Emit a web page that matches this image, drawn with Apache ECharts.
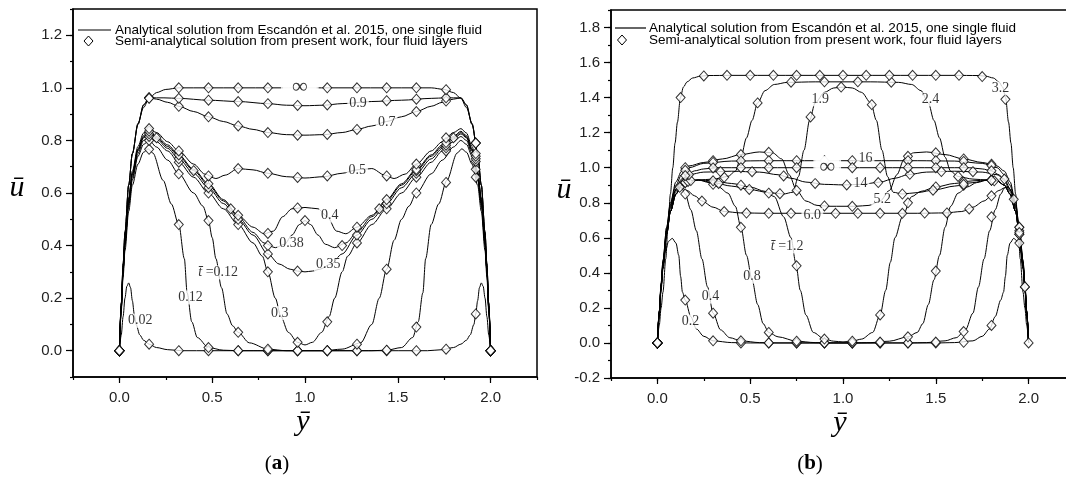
<!DOCTYPE html>
<html>
<head>
<meta charset="utf-8">
<title>velocity profiles</title>
<script src="https://cdn.jsdelivr.net/npm/echarts@6/dist/echarts.min.js"></script>
<style>
  html, body { margin: 0; padding: 0; background: #fff; overflow: hidden; }
  #chart { width: 1080px; height: 479px; }
</style>
</head>
<body>
<div id="chart"></div>
<script>
// tick labels
var aXTicks = [0, 0.5, 1, 1.5, 2];
var aYTicks = [0, 0.2, 0.4, 0.6, 0.8, 1, 1.2];
var bYTicks = [-0.2, 0, 0.2, 0.4, 0.6, 0.8, 1, 1.2, 1.4, 1.6, 1.8];

// ---- panel (a) : analytical lines + semi-analytical diamonds ----
var a002Line = [[0,0],[0.01,0.06],[0.02,0.13],[0.03,0.2],[0.04,0.245],[0.05,0.258],[0.06,0.24],[0.07,0.19],[0.08,0.14],[0.09,0.1],[0.11,0.06],[0.13,0.04],[0.16,0.025],[0.2,0.012],[0.26,0.004],[0.34,0],[1.66,0],[1.74,0.004],[1.8,0.012],[1.84,0.025],[1.87,0.04],[1.89,0.06],[1.91,0.1],[1.92,0.14],[1.93,0.19],[1.94,0.24],[1.95,0.258],[1.96,0.245],[1.97,0.2],[1.98,0.13],[1.99,0.06],[2,0]];
var a002Pts = [[0,0],[0.16,0.025],[0.32,0],[0.48,0],[0.64,0],[0.8,0],[0.96,0],[1.12,0],[1.28,0],[1.44,0],[1.6,0],[1.76,0.006],[1.92,0.14],[2,0]];

var a012Line = [[0,0],[0.01,0.15],[0.02,0.28],[0.03,0.38],[0.05,0.53],[0.07,0.63],[0.1,0.71],[0.13,0.755],[0.155,0.768],[0.18,0.752],[0.236,0.648],[0.28,0.558],[0.32,0.48],[0.35,0.35],[0.365,0.22],[0.39,0.11],[0.42,0.05],[0.48,0.012],[0.56,0.002],[0.64,0],[1.36,0],[1.44,0.002],[1.52,0.012],[1.58,0.05],[1.61,0.11],[1.635,0.22],[1.65,0.35],[1.68,0.48],[1.72,0.558],[1.764,0.648],[1.82,0.752],[1.845,0.768],[1.87,0.755],[1.9,0.71],[1.93,0.63],[1.95,0.53],[1.97,0.38],[1.98,0.28],[1.99,0.15],[2,0]];
var a012Pts = [[0,0],[0.16,0.766],[0.32,0.48],[0.48,0.012],[0.64,0],[0.8,0],[0.96,0],[1.12,0],[1.28,0],[1.44,0.002],[1.6,0.09],[1.76,0.64],[1.92,0.66],[2,0]];

var a012bLine = [[0,0],[0.01,0.16],[0.02,0.3],[0.03,0.4],[0.05,0.55],[0.07,0.65],[0.1,0.74],[0.13,0.785],[0.16,0.8],[0.2,0.775],[0.26,0.725],[0.32,0.673],[0.4,0.6],[0.45,0.55],[0.48,0.495],[0.5,0.43],[0.52,0.35],[0.55,0.24],[0.58,0.14],[0.61,0.095],[0.64,0.07],[0.7,0.03],[0.8,0.006],[0.9,0],[1.1,0],[1.2,0.006],[1.3,0.03],[1.36,0.1],[1.4,0.2],[1.44,0.31],[1.48,0.42],[1.52,0.5],[1.56,0.55],[1.6,0.6],[1.68,0.673],[1.74,0.725],[1.8,0.775],[1.84,0.8],[1.87,0.785],[1.9,0.74],[1.93,0.65],[1.95,0.55],[1.97,0.4],[1.98,0.3],[1.99,0.16],[2,0]];
var a012bPts = [[0,0],[0.16,0.8],[0.32,0.673],[0.48,0.495],[0.64,0.07],[0.8,0.006],[0.96,0],[1.12,0],[1.28,0.025],[1.44,0.31],[1.6,0.6],[1.76,0.76],[1.92,0.69],[2,0]];

var a03Line = [[0,0],[0.01,0.16],[0.02,0.3],[0.03,0.41],[0.05,0.56],[0.07,0.66],[0.1,0.75],[0.13,0.8],[0.16,0.815],[0.2,0.795],[0.26,0.76],[0.32,0.717],[0.4,0.66],[0.48,0.6],[0.56,0.54],[0.64,0.48],[0.72,0.41],[0.77,0.36],[0.8,0.3],[0.84,0.2],[0.87,0.13],[0.91,0.07],[0.96,0.032],[1,0.022],[1.04,0.032],[1.09,0.07],[1.13,0.13],[1.16,0.2],[1.2,0.3],[1.23,0.36],[1.28,0.41],[1.36,0.48],[1.44,0.54],[1.52,0.6],[1.6,0.66],[1.68,0.717],[1.74,0.76],[1.8,0.795],[1.84,0.815],[1.87,0.8],[1.9,0.75],[1.93,0.66],[1.95,0.56],[1.97,0.41],[1.98,0.3],[1.99,0.16],[2,0]];
var a03Pts = [[0,0],[0.16,0.815],[0.32,0.717],[0.48,0.6],[0.64,0.48],[0.8,0.3],[0.96,0.032],[1.12,0.11],[1.28,0.41],[1.44,0.54],[1.6,0.66],[1.76,0.772],[1.92,0.72],[2,0]];

var a035Line = [[0,0],[0.01,0.165],[0.02,0.305],[0.03,0.41],[0.05,0.57],[0.07,0.67],[0.1,0.76],[0.13,0.81],[0.16,0.825],[0.2,0.805],[0.26,0.77],[0.32,0.73],[0.4,0.675],[0.48,0.62],[0.56,0.56],[0.64,0.5],[0.72,0.44],[0.8,0.368],[0.86,0.33],[0.92,0.31],[0.96,0.303],[1,0.3],[1.04,0.303],[1.08,0.31],[1.14,0.33],[1.2,0.368],[1.28,0.44],[1.36,0.5],[1.44,0.56],[1.52,0.62],[1.6,0.675],[1.68,0.73],[1.74,0.77],[1.8,0.805],[1.84,0.825],[1.87,0.81],[1.9,0.76],[1.93,0.67],[1.95,0.57],[1.97,0.41],[1.98,0.305],[1.99,0.165],[2,0]];
var a035Pts = [[0,0],[0.16,0.825],[0.32,0.73],[0.48,0.62],[0.64,0.5],[0.8,0.368],[0.96,0.303],[1.28,0.44],[1.44,0.56],[1.6,0.675],[1.76,0.782],[1.92,0.73],[2,0]];

var a038Line = [[0,0],[0.01,0.166],[0.02,0.307],[0.03,0.415],[0.05,0.573],[0.07,0.672],[0.1,0.764],[0.13,0.813],[0.16,0.83],[0.2,0.81],[0.26,0.777],[0.32,0.74],[0.4,0.685],[0.48,0.63],[0.56,0.57],[0.64,0.51],[0.72,0.45],[0.78,0.41],[0.84,0.392],[0.89,0.405],[0.93,0.44],[0.97,0.48],[1,0.495],[1.03,0.48],[1.07,0.44],[1.11,0.405],[1.16,0.392],[1.22,0.41],[1.28,0.45],[1.36,0.51],[1.44,0.57],[1.52,0.63],[1.6,0.685],[1.68,0.74],[1.74,0.777],[1.8,0.81],[1.84,0.83],[1.87,0.813],[1.9,0.764],[1.93,0.672],[1.95,0.573],[1.97,0.415],[1.98,0.307],[1.99,0.166],[2,0]];
var a038Pts = [[0,0],[0.2,0.81],[0.4,0.685],[0.6,0.54],[0.8,0.4],[1,0.495],[1.2,0.4],[1.4,0.54],[1.6,0.685],[1.8,0.81],[2,0]];

var a04Line = [[0,0],[0.01,0.167],[0.02,0.309],[0.03,0.418],[0.05,0.576],[0.07,0.676],[0.1,0.768],[0.13,0.818],[0.16,0.835],[0.2,0.815],[0.26,0.783],[0.32,0.745],[0.4,0.69],[0.48,0.635],[0.56,0.575],[0.64,0.515],[0.72,0.47],[0.78,0.445],[0.83,0.455],[0.88,0.51],[0.93,0.54],[1,0.545],[1.07,0.54],[1.12,0.51],[1.17,0.455],[1.22,0.445],[1.28,0.47],[1.36,0.515],[1.44,0.575],[1.52,0.635],[1.6,0.69],[1.68,0.745],[1.74,0.783],[1.8,0.815],[1.84,0.835],[1.87,0.818],[1.9,0.768],[1.93,0.676],[1.95,0.576],[1.97,0.418],[1.98,0.309],[1.99,0.167],[2,0]];
var a04Pts = [[0,0],[0.16,0.835],[0.32,0.745],[0.48,0.635],[0.64,0.515],[0.8,0.446],[0.96,0.543],[1.28,0.47],[1.44,0.575],[1.6,0.69],[1.76,0.792],[1.92,0.74],[2,0]];

var a05Line = [[0,0],[0.01,0.17],[0.02,0.313],[0.03,0.423],[0.05,0.583],[0.07,0.684],[0.1,0.777],[0.13,0.828],[0.16,0.845],[0.2,0.83],[0.26,0.795],[0.32,0.76],[0.4,0.71],[0.46,0.672],[0.52,0.655],[0.57,0.668],[0.64,0.693],[0.72,0.688],[0.8,0.675],[0.9,0.662],[1,0.657],[1.1,0.662],[1.2,0.675],[1.28,0.688],[1.36,0.693],[1.43,0.668],[1.48,0.655],[1.54,0.672],[1.6,0.71],[1.68,0.76],[1.74,0.795],[1.8,0.83],[1.84,0.845],[1.87,0.828],[1.9,0.777],[1.93,0.684],[1.95,0.583],[1.97,0.423],[1.98,0.313],[1.99,0.17],[2,0]];
var a05Pts = [[0,0],[0.16,0.845],[0.32,0.76],[0.48,0.665],[0.64,0.693],[0.8,0.675],[0.96,0.659],[1.12,0.665],[1.44,0.665],[1.6,0.71],[1.76,0.81],[1.92,0.75],[2,0]];

var a07Line = [[0,0],[0.01,0.18],[0.02,0.33],[0.03,0.45],[0.05,0.63],[0.07,0.75],[0.1,0.86],[0.13,0.935],[0.16,0.962],[0.2,0.957],[0.26,0.945],[0.32,0.93],[0.4,0.91],[0.48,0.89],[0.56,0.872],[0.64,0.855],[0.72,0.842],[0.8,0.83],[0.9,0.822],[1,0.82],[1.1,0.822],[1.2,0.83],[1.28,0.842],[1.36,0.855],[1.44,0.872],[1.52,0.89],[1.6,0.91],[1.68,0.93],[1.74,0.945],[1.8,0.957],[1.84,0.962],[1.87,0.935],[1.9,0.86],[1.93,0.75],[1.95,0.63],[1.97,0.45],[1.98,0.33],[1.99,0.18],[2,0]];
var a07Pts = [[0,0],[0.16,0.962],[0.32,0.93],[0.48,0.89],[0.64,0.855],[0.8,0.83],[0.96,0.82],[1.12,0.823],[1.28,0.842],[1.6,0.91],[1.76,0.95],[1.92,0.79],[2,0]];

var a09Line = [[0,0],[0.01,0.18],[0.02,0.33],[0.03,0.45],[0.05,0.63],[0.07,0.75],[0.1,0.862],[0.13,0.935],[0.16,0.962],[0.24,0.962],[0.32,0.96],[0.48,0.953],[0.64,0.948],[0.8,0.94],[0.9,0.934],[1,0.932],[1.1,0.934],[1.2,0.94],[1.36,0.948],[1.52,0.953],[1.68,0.96],[1.76,0.962],[1.84,0.962],[1.87,0.935],[1.9,0.862],[1.93,0.75],[1.95,0.63],[1.97,0.45],[1.98,0.33],[1.99,0.18],[2,0]];
var a09Pts = [[0,0],[0.16,0.962],[0.32,0.96],[0.48,0.953],[0.64,0.948],[0.8,0.94],[0.96,0.933],[1.12,0.935],[1.44,0.951],[1.6,0.957],[1.76,0.962],[1.92,0.79],[2,0]];

var aInfLine = [[0,0],[0.01,0.18],[0.02,0.33],[0.03,0.45],[0.05,0.63],[0.07,0.75],[0.1,0.865],[0.13,0.925],[0.16,0.96],[0.2,0.982],[0.25,0.994],[0.32,1],[1.68,1],[1.75,0.994],[1.8,0.982],[1.84,0.96],[1.87,0.925],[1.9,0.865],[1.93,0.75],[1.95,0.63],[1.97,0.45],[1.98,0.33],[1.99,0.18],[2,0]];
var aInfPts = [[0,0],[0.16,0.96],[0.32,1],[0.48,1],[0.64,1],[0.8,1],[1.12,1],[1.28,1],[1.44,1],[1.6,1],[1.76,0.993],[1.92,0.79],[2,0]];

// curve labels (a): [y, u, text]
var aLabels = [[0.113,0.114,'0.02'],[0.383,0.203,'0.12'],[0.532,0.298,'{i|t\u0304} =0.12'],[0.864,0.143,'0.3'],[1.125,0.328,'0.35'],[0.927,0.409,'0.38'],[1.133,0.514,'0.4'],[1.281,0.686,'0.5'],[1.44,0.87,'0.7'],[1.286,0.942,'0.9'],[0.972,1.003,'{infA|\u221e}']];

// ---- panel (b) ----
var b02Line = [[0,0],[0.01,0.16],[0.02,0.3],[0.03,0.42],[0.045,0.53],[0.06,0.58],[0.08,0.597],[0.1,0.57],[0.115,0.5],[0.125,0.38],[0.135,0.29],[0.15,0.245],[0.18,0.15],[0.21,0.08],[0.25,0.038],[0.3,0.012],[0.4,0.002],[0.5,0],[1.5,0],[1.6,0.002],[1.7,0.012],[1.75,0.038],[1.79,0.08],[1.82,0.15],[1.85,0.245],[1.865,0.29],[1.875,0.38],[1.885,0.5],[1.9,0.57],[1.92,0.597],[1.94,0.58],[1.955,0.53],[1.97,0.42],[1.98,0.3],[1.99,0.16],[2,0]];
var b02Pts = [[0,0],[0.15,0.245],[0.3,0.012],[0.45,0],[0.6,0],[0.75,0],[0.9,0],[1.05,0],[1.2,0],[1.35,0],[1.5,0],[1.65,0.004],[1.8,0.1],[1.95,0.57]];

var b04Line = [[0,0],[0.01,0.17],[0.02,0.32],[0.03,0.45],[0.05,0.64],[0.07,0.78],[0.09,0.86],[0.11,0.89],[0.13,0.885],[0.15,0.85],[0.18,0.76],[0.21,0.64],[0.24,0.48],[0.27,0.32],[0.3,0.17],[0.34,0.075],[0.39,0.03],[0.45,0.012],[0.55,0.002],[0.65,0],[1.35,0],[1.45,0.002],[1.55,0.012],[1.61,0.03],[1.66,0.075],[1.7,0.17],[1.73,0.32],[1.76,0.48],[1.79,0.64],[1.82,0.76],[1.85,0.85],[1.87,0.885],[1.89,0.89],[1.91,0.86],[1.93,0.78],[1.95,0.64],[1.97,0.45],[1.98,0.32],[1.99,0.17],[2,0]];
var b04Pts = [[0,0],[0.15,0.85],[0.3,0.17],[0.45,0.012],[0.6,0],[0.75,0],[0.9,0],[1.05,0],[1.2,0],[1.35,0],[1.5,0.005],[1.65,0.065],[1.8,0.72],[1.95,0.64]];

var b08Line = [[0,0],[0.01,0.17],[0.02,0.32],[0.03,0.44],[0.05,0.62],[0.07,0.75],[0.1,0.85],[0.13,0.9],[0.17,0.925],[0.22,0.93],[0.28,0.915],[0.33,0.89],[0.38,0.855],[0.42,0.78],[0.45,0.66],[0.48,0.5],[0.51,0.36],[0.54,0.22],[0.57,0.11],[0.6,0.06],[0.65,0.035],[0.75,0.01],[0.85,0.002],[0.95,0],[1.05,0],[1.15,0.002],[1.25,0.01],[1.35,0.035],[1.4,0.06],[1.43,0.11],[1.46,0.22],[1.49,0.36],[1.52,0.5],[1.55,0.66],[1.58,0.78],[1.62,0.855],[1.67,0.89],[1.72,0.915],[1.78,0.93],[1.83,0.925],[1.87,0.9],[1.9,0.85],[1.93,0.75],[1.95,0.62],[1.97,0.44],[1.98,0.32],[1.99,0.17],[2,0]];
var b08Pts = [[0,0],[0.15,0.915],[0.3,0.905],[0.45,0.66],[0.6,0.06],[0.75,0.01],[0.9,0.001],[1.05,0],[1.2,0.005],[1.35,0.035],[1.5,0.41],[1.65,0.9],[1.8,0.93],[1.95,0.62]];

var b12Line = [[0,0],[0.01,0.17],[0.02,0.32],[0.03,0.44],[0.05,0.62],[0.07,0.75],[0.1,0.85],[0.13,0.9],[0.17,0.925],[0.22,0.93],[0.3,0.925],[0.4,0.91],[0.5,0.89],[0.58,0.865],[0.63,0.835],[0.68,0.72],[0.72,0.6],[0.745,0.46],[0.77,0.3],[0.8,0.16],[0.84,0.06],[0.9,0.022],[0.95,0.01],[1,0.006],[1.05,0.01],[1.1,0.022],[1.16,0.06],[1.2,0.16],[1.23,0.3],[1.255,0.46],[1.28,0.6],[1.32,0.72],[1.37,0.835],[1.42,0.865],[1.5,0.89],[1.6,0.91],[1.7,0.925],[1.78,0.93],[1.83,0.925],[1.87,0.9],[1.9,0.85],[1.93,0.75],[1.95,0.62],[1.97,0.44],[1.98,0.32],[1.99,0.17],[2,0]];
var b12Pts = [[0,0],[0.15,0.915],[0.3,0.925],[0.45,0.9],[0.6,0.855],[0.75,0.44],[0.9,0.022],[1.05,0.01],[1.2,0.16],[1.35,0.8],[1.5,0.89],[1.65,0.918],[1.8,0.93],[1.95,0.62]];

var b19Line = [[0,0],[0.01,0.17],[0.02,0.32],[0.03,0.44],[0.05,0.62],[0.07,0.75],[0.1,0.85],[0.13,0.9],[0.17,0.925],[0.22,0.93],[0.3,0.915],[0.4,0.895],[0.5,0.875],[0.6,0.858],[0.68,0.85],[0.73,0.86],[0.76,0.95],[0.79,1.1],[0.82,1.27],[0.85,1.37],[0.9,1.43],[0.95,1.455],[1,1.46],[1.05,1.455],[1.1,1.43],[1.15,1.37],[1.18,1.27],[1.21,1.1],[1.24,0.95],[1.27,0.86],[1.32,0.85],[1.4,0.858],[1.5,0.875],[1.6,0.895],[1.7,0.915],[1.78,0.93],[1.83,0.925],[1.87,0.9],[1.9,0.85],[1.93,0.75],[1.95,0.62],[1.97,0.44],[1.98,0.32],[1.99,0.17],[2,0]];
var b19Pts = [[0,0],[0.165,0.922],[0.33,0.91],[0.495,0.876],[0.66,0.852],[0.825,1.29],[0.99,1.46],[1.155,1.36],[1.32,0.85],[1.485,0.872],[1.65,0.905],[1.815,0.925],[1.98,0.32]];

var b24Line = [[0,0],[0.01,0.17],[0.02,0.32],[0.03,0.44],[0.05,0.62],[0.07,0.75],[0.1,0.85],[0.13,0.9],[0.17,0.925],[0.22,0.93],[0.3,0.935],[0.38,0.95],[0.42,0.98],[0.45,1.06],[0.48,1.17],[0.51,1.27],[0.54,1.37],[0.58,1.44],[0.63,1.475],[0.7,1.487],[0.85,1.49],[1.15,1.49],[1.3,1.487],[1.37,1.475],[1.42,1.44],[1.46,1.37],[1.49,1.27],[1.52,1.17],[1.55,1.06],[1.58,0.98],[1.62,0.95],[1.7,0.935],[1.78,0.93],[1.83,0.925],[1.87,0.9],[1.9,0.85],[1.93,0.75],[1.95,0.62],[1.97,0.44],[1.98,0.32],[1.99,0.17],[2,0]];
var b24Pts = [[0,0],[0.18,0.927],[0.36,0.945],[0.54,1.37],[0.72,1.488],[0.9,1.49],[1.08,1.49],[1.26,1.488],[1.62,0.95],[1.8,0.928],[1.98,0.32]];

var b32Line = [[0,0],[0.01,0.1],[0.02,0.2],[0.03,0.29],[0.045,0.48],[0.057,0.664],[0.07,0.85],[0.083,1],[0.095,1.14],[0.108,1.26],[0.124,1.4],[0.14,1.46],[0.16,1.49],[0.19,1.512],[0.23,1.522],[0.27,1.526],[0.4,1.527],[1.6,1.527],[1.73,1.526],[1.77,1.522],[1.81,1.512],[1.84,1.49],[1.86,1.46],[1.876,1.4],[1.892,1.26],[1.905,1.14],[1.917,1],[1.93,0.85],[1.943,0.664],[1.955,0.48],[1.97,0.29],[1.98,0.2],[1.99,0.1],[2,0]];
var b32Pts = [[0,0],[0.125,1.4],[0.25,1.524],[0.375,1.527],[0.5,1.527],[0.625,1.527],[0.75,1.527],[0.875,1.527],[1,1.527],[1.125,1.527],[1.25,1.527],[1.375,1.527],[1.5,1.527],[1.625,1.527],[1.75,1.52],[1.875,1.39],[2,0]];

var b52Line = [[0,0],[0.01,0.18],[0.02,0.34],[0.03,0.47],[0.05,0.66],[0.07,0.8],[0.1,0.92],[0.13,0.98],[0.17,1.01],[0.25,1.03],[0.35,1.05],[0.45,1.075],[0.55,1.09],[0.62,1.085],[0.67,1.05],[0.71,0.96],[0.75,0.87],[0.8,0.81],[0.86,0.785],[0.93,0.78],[1,0.78],[1.07,0.78],[1.14,0.785],[1.2,0.81],[1.25,0.87],[1.29,0.96],[1.33,1.05],[1.38,1.085],[1.45,1.09],[1.55,1.075],[1.65,1.05],[1.75,1.03],[1.83,1.01],[1.87,0.98],[1.9,0.92],[1.93,0.8],[1.95,0.66],[1.97,0.47],[1.98,0.34],[1.99,0.18],[2,0]];
var b52Pts = [[0,0],[0.15,1],[0.3,1.04],[0.45,1.075],[0.6,1.088],[0.75,0.87],[0.9,0.782],[1.05,0.78],[1.35,1.065],[1.5,1.085],[1.65,1.05],[1.8,1.02],[1.95,0.66]];

var b60Line = [[0,0],[0.01,0.17],[0.02,0.32],[0.03,0.45],[0.05,0.64],[0.07,0.78],[0.09,0.86],[0.11,0.89],[0.13,0.885],[0.16,0.87],[0.2,0.84],[0.24,0.81],[0.3,0.775],[0.36,0.75],[0.45,0.742],[0.6,0.74],[1.4,0.74],[1.55,0.742],[1.64,0.75],[1.7,0.775],[1.76,0.81],[1.8,0.84],[1.84,0.87],[1.87,0.885],[1.89,0.89],[1.91,0.86],[1.93,0.78],[1.95,0.64],[1.97,0.45],[1.98,0.32],[1.99,0.17],[2,0]];
var b60Pts = [[0,0],[0.12,0.888],[0.24,0.81],[0.36,0.75],[0.48,0.741],[0.6,0.74],[0.72,0.74],[0.96,0.74],[1.08,0.74],[1.2,0.74],[1.32,0.74],[1.44,0.741],[1.56,0.742],[1.68,0.765],[1.8,0.84],[1.92,0.82]];

var b14Line = [[0,0],[0.01,0.18],[0.02,0.33],[0.03,0.46],[0.05,0.645],[0.07,0.77],[0.1,0.88],[0.13,0.935],[0.17,0.96],[0.25,0.975],[0.4,0.98],[0.55,0.975],[0.65,0.96],[0.72,0.94],[0.8,0.918],[0.9,0.905],[1,0.902],[1.1,0.905],[1.2,0.918],[1.28,0.94],[1.35,0.96],[1.45,0.975],[1.6,0.98],[1.75,0.975],[1.83,0.96],[1.87,0.935],[1.9,0.88],[1.93,0.77],[1.95,0.645],[1.97,0.46],[1.98,0.33],[1.99,0.18],[2,0]];
var b14Pts = [[0,0],[0.17,0.96],[0.34,0.978],[0.51,0.977],[0.68,0.953],[0.85,0.91],[1.02,0.902],[1.19,0.915],[1.36,0.962],[1.53,0.978],[1.7,0.977],[1.87,0.935]];

var b16Line = [[0,0],[0.01,0.18],[0.02,0.34],[0.03,0.47],[0.05,0.66],[0.07,0.79],[0.1,0.9],[0.13,0.96],[0.17,1],[0.25,1.025],[0.4,1.038],[0.6,1.04],[1.4,1.04],[1.6,1.038],[1.75,1.025],[1.83,1],[1.87,0.96],[1.9,0.9],[1.93,0.79],[1.95,0.66],[1.97,0.47],[1.98,0.34],[1.99,0.18],[2,0]];
var b16Pts = [[0,0],[0.15,0.985],[0.3,1.03],[0.45,1.039],[0.6,1.04],[0.75,1.04],[0.9,1.04],[1.05,1.04],[1.35,1.04],[1.5,1.04],[1.65,1.036],[1.8,1.012],[1.95,0.66]];

var bInfLine = [[0,0],[0.01,0.18],[0.02,0.33],[0.03,0.45],[0.05,0.63],[0.07,0.75],[0.1,0.865],[0.13,0.925],[0.16,0.96],[0.2,0.982],[0.25,0.993],[0.32,1],[1.68,1],[1.75,0.993],[1.8,0.982],[1.84,0.96],[1.87,0.925],[1.9,0.865],[1.93,0.75],[1.95,0.63],[1.97,0.45],[1.98,0.33],[1.99,0.18],[2,0]];
var bInfPts = [[0,0],[0.15,0.955],[0.3,0.999],[0.45,1],[0.6,1],[0.75,1],[1.05,1],[1.2,1],[1.35,1],[1.5,1],[1.65,1],[1.8,0.982],[1.95,0.63]];

// curve labels (b)
var bLabels = [[1.121,1.054,'16'],[0.915,1.003,'{infB|\u221e}'],[1.094,0.911,'14'],[1.211,0.82,'5.2'],[0.834,0.731,'6.0'],[0.878,1.39,'1.9'],[1.472,1.39,'2.4'],[1.849,1.453,'3.2'],[0.699,0.55,'{i|t\u0304} =1.2'],[0.51,0.379,'0.8'],[0.286,0.264,'0.4'],[0.178,0.122,'0.2']];

var aLines = [a002Line, a012Line, a012bLine, a03Line, a035Line, a038Line, a04Line, a05Line, a07Line, a09Line, aInfLine];
var aMarks = [a002Pts, a012Pts, a012bPts, a03Pts, a035Pts, a038Pts, a04Pts, a05Pts, a07Pts, a09Pts, aInfPts];
var bLines = [b02Line, b04Line, b08Line, b12Line, b19Line, b24Line, b32Line, b52Line, b60Line, b14Line, b16Line, bInfLine];
var bMarks = [b02Pts, b04Pts, b08Pts, b12Pts, b19Pts, b24Pts, b32Pts, b52Pts, b60Pts, b14Pts, b16Pts, bInfPts];

var AXIS_FONT = '"Liberation Sans", Arial, sans-serif';
var SERIF = '"Liberation Serif", "Times New Roman", serif';

function mainX(grid) {
	return {
		gridIndex: grid, type: 'value', position: 'bottom', min: -0.25, max: 2.25, interval: 0.25,
		axisLine: { onZero: false, lineStyle: { color: '#000', width: 1.5 } },
		axisTick: { customValues: aXTicks, length: 6, lineStyle: { color: '#000', width: 1.2 } },
		axisLabel: { customValues: aXTicks, margin: 13, color: '#222', fontSize: 15, fontFamily: AXIS_FONT,
			formatter: function (v) { return v.toFixed(1); } },
		splitLine: { show: false }
	};
}
function minorX(grid) {
	return {
		gridIndex: grid, type: 'value', position: 'bottom', min: -0.25, max: 2.25, interval: 0.25,
		axisLine: { show: false, onZero: false }, axisLabel: { show: false }, splitLine: { show: false },
		axisTick: { length: 3, lineStyle: { color: '#000', width: 1.2 } }
	};
}
function mainY(grid, min, max, ticks) {
	return {
		gridIndex: grid, type: 'value', position: 'left', min: min, max: max, interval: 0.1,
		axisLine: { show: true, onZero: false, lineStyle: { color: '#000', width: 1.5 } },
		axisTick: { show: true, customValues: ticks, length: 7, lineStyle: { color: '#000', width: 1.2 } },
		axisLabel: { customValues: ticks, margin: 11, color: '#222', fontSize: 15, fontFamily: AXIS_FONT,
			formatter: function (v) { return v.toFixed(1); } },
		splitLine: { show: false }
	};
}
function minorY(grid, min, max) {
	return {
		gridIndex: grid, type: 'value', position: 'left', min: min, max: max, interval: 0.1,
		axisLine: { show: false, onZero: false }, axisLabel: { show: false }, splitLine: { show: false },
		axisTick: { show: true, length: 3, lineStyle: { color: '#000', width: 1.2 } }
	};
}

var series = [];
function addCurves(lines, marks, xi, yi) {
	for (var i = 0; i < lines.length; i++) {
		series.push({
			type: 'line', xAxisIndex: xi, yAxisIndex: yi, data: lines[i],
			symbol: 'none', smooth: 0.3, smoothMonotone: 'x', silent: true, z: 2,
			lineStyle: { color: '#000', width: 1 }
		});
		series.push({
			type: 'scatter', xAxisIndex: xi, yAxisIndex: yi, data: marks[i],
			symbol: 'diamond', symbolSize: [9, 10], silent: true, z: 3,
			itemStyle: { color: '#fff', borderColor: '#000', borderWidth: 1 }
		});
	}
}
addCurves(aLines, aMarks, 0, 0);
addCurves(bLines, bMarks, 2, 2);

//曲线标注
function labelSeries(data, xi, yi) {
	return {
		type: 'scatter', xAxisIndex: xi, yAxisIndex: yi, data: data,
		symbol: 'circle', symbolSize: 1, silent: true, z: 6,
		itemStyle: { color: 'rgba(0,0,0,0)' },
		label: {
			show: true, position: 'inside', color: '#000',
			fontFamily: SERIF, fontSize: 14, backgroundColor: '#fff', padding: [0, 2],
			formatter: function (p) { return p.data[2]; },
			rich: {
				i: { fontFamily: SERIF, fontStyle: 'italic', fontSize: 14, color: '#000' },
				infA: { fontFamily: SERIF, fontSize: 22, color: '#000', backgroundColor: '#fff', padding: [0, 9] },
				infB: { fontFamily: SERIF, fontSize: 22, color: '#000', backgroundColor: '#fff', padding: [0, 4] }
			}
		}
	};
}
series.push(labelSeries(aLabels, 0, 0));
series.push(labelSeries(bLabels, 2, 2));

function diamond(cx, cy) {
	return { type: 'polygon', shape: { points: [[cx, cy - 5], [cx + 4.5, cy], [cx, cy + 5], [cx - 4.5, cy]] },
		style: { fill: '#fff', stroke: '#000', lineWidth: 1 }, z: 20 };
}
function legendText(x, y, txt) {
	return { type: 'text', x: x, y: y, z: 20,
		style: { text: txt, font: '13.5px ' + AXIS_FONT, fill: '#000', verticalAlign: 'middle' } };
}

var graphics = [
	{ type: 'line', shape: { x1: 78, y1: 30, x2: 111, y2: 30 }, style: { stroke: '#000', lineWidth: 1.2 }, z: 20 },
	legendText(115, 30, 'Analytical solution from Escand\u00f3n et al. 2015, one single fluid'),
	diamond(88.5, 41),
	legendText(115, 41, 'Semi-analytical solution from present work, four fluid layers'),
	{ type: 'line', shape: { x1: 615, y1: 28, x2: 646, y2: 28 }, style: { stroke: '#000', lineWidth: 1.2 }, z: 20 },
	legendText(649, 28, 'Analytical solution from Escand\u00f3n et al. 2015, one single fluid'),
	diamond(622, 40),
	legendText(649, 40, 'Semi-analytical solution from present work, four fluid layers'),
	// axis names
	{ type: 'text', x: 17, y: 188, style: { text: '\u016b', font: 'italic 30px ' + SERIF, fill: '#000', align: 'center', verticalAlign: 'middle' } },
	{ type: 'text', x: 564, y: 190, style: { text: '\u016b', font: 'italic 30px ' + SERIF, fill: '#000', align: 'center', verticalAlign: 'middle' } },
	{ type: 'text', x: 303, y: 422, style: { text: '\u0233', font: 'italic 30px ' + SERIF, fill: '#000', align: 'center', verticalAlign: 'middle' } },
	{ type: 'text', x: 840, y: 423, style: { text: '\u0233', font: 'italic 30px ' + SERIF, fill: '#000', align: 'center', verticalAlign: 'middle' } },
	// sub captions
	{ type: 'text', x: 277, y: 464, style: { text: '({b|a})', font: '21px ' + SERIF, fill: '#000', align: 'center', verticalAlign: 'middle',
		rich: { b: { fontFamily: SERIF, fontSize: 21, fontWeight: 'bold', color: '#000' } } } },
	{ type: 'text', x: 810, y: 464, style: { text: '({b|b})', font: '21px ' + SERIF, fill: '#000', align: 'center', verticalAlign: 'middle',
		rich: { b: { fontFamily: SERIF, fontSize: 21, fontWeight: 'bold', color: '#000' } } } }
];

var myChart = echarts.init(document.getElementById('chart'), null, { renderer: 'canvas' });
myChart.setOption({
	backgroundColor: '#fff',
	animation: false,
	grid: [
		{ left: 73, top: 9, width: 464, height: 368, show: true, borderColor: '#000', borderWidth: 1.5, backgroundColor: 'rgba(0,0,0,0)' },
		{ left: 611, top: 10, width: 464, height: 368, show: true, borderColor: '#000', borderWidth: 1.5, backgroundColor: 'rgba(0,0,0,0)' }
	],
	xAxis: [mainX(0), minorX(0), mainX(1), minorX(1)],
	yAxis: [mainY(0, -0.1, 1.3, aYTicks), minorY(0, -0.1, 1.3), mainY(1, -0.2, 1.9, bYTicks), minorY(1, -0.2, 1.9)],
	series: series,
	graphic: graphics
});
</script>
</body>
</html>
